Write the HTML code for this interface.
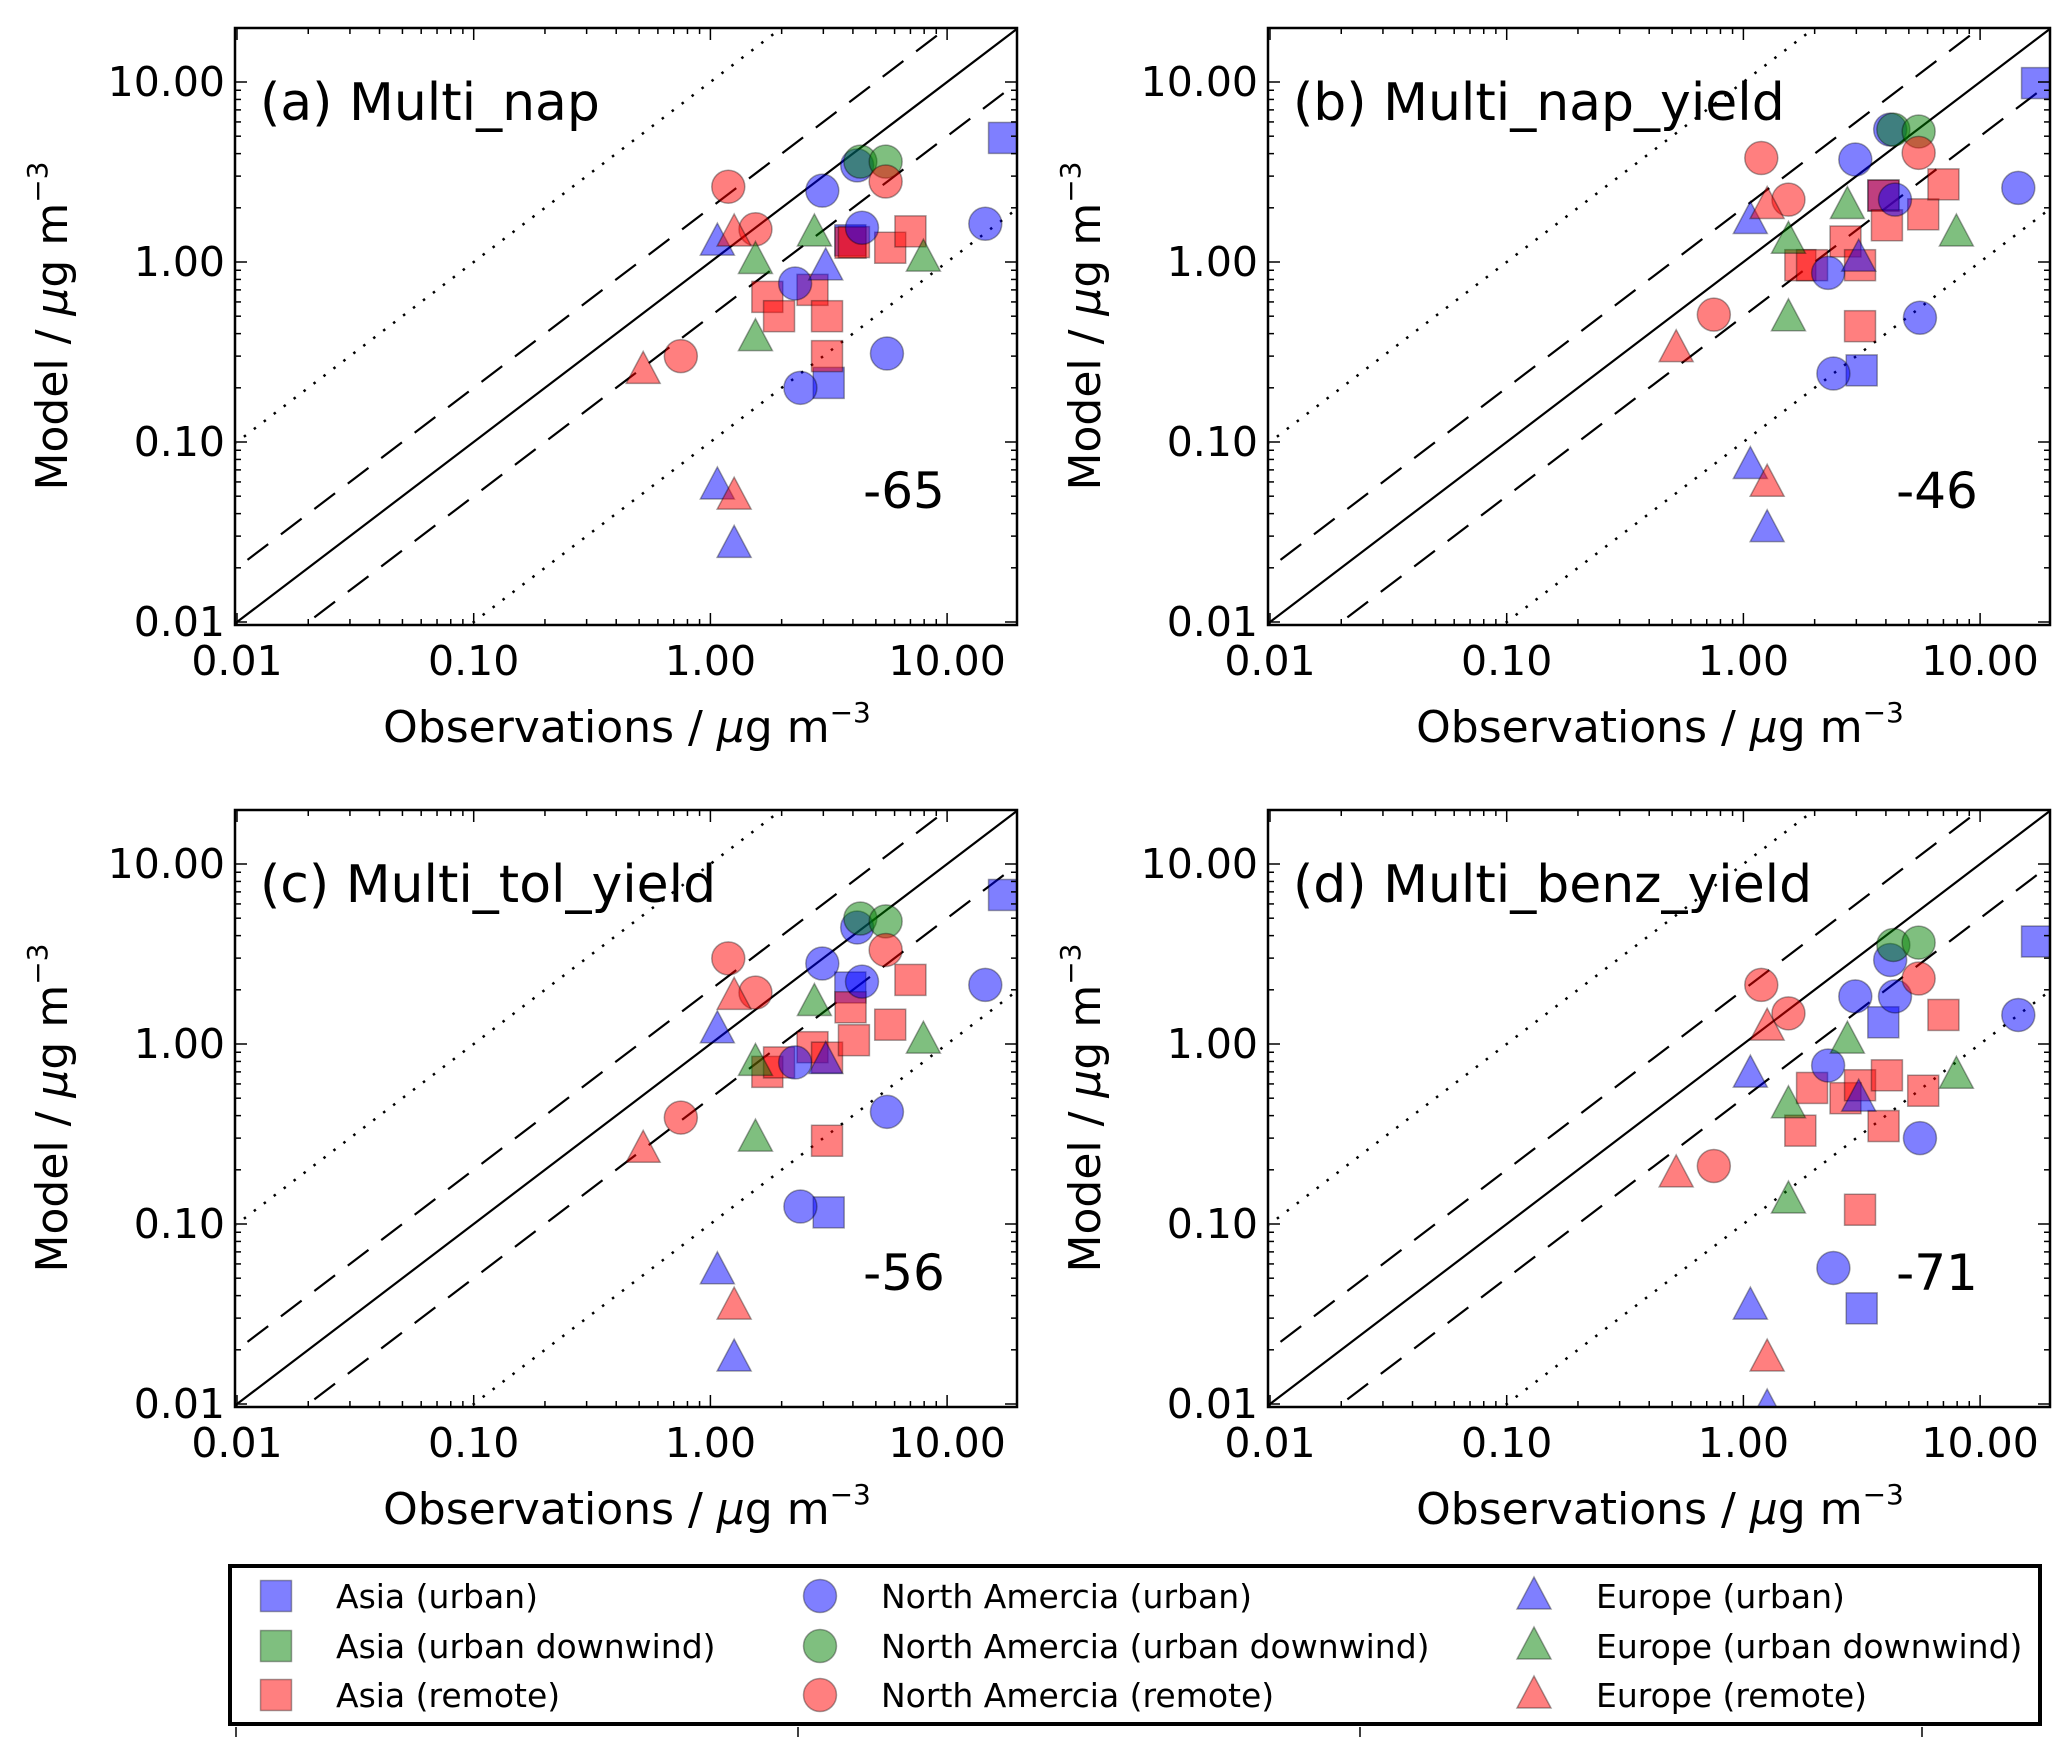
<!DOCTYPE html>
<html><head><meta charset="utf-8"><style>
html,body{margin:0;padding:0;background:#fff;}
svg{display:block;}
text{font-family:"DejaVu Sans","Liberation Sans",sans-serif;fill:#000;}
</style></head><body>
<svg id="fig" width="2067" height="1758" viewBox="0 0 2067 1758" xmlns="http://www.w3.org/2000/svg">
<defs id="defs"></defs>
<g id="panels"></g>
<g id="legend"></g>
</svg>
<script>
// ---------- data (µg m-3) ----------
const panelTitles = ["(a) Multi_nap", "(b) Multi_nap_yield", "(c) Multi_tol_yield", "(d) Multi_benz_yield"];
const panelScores = ["-65", "-46", "-56", "-71"];
const tickValues = [0.01, 0.1, 1, 10];
const tickLabels = ["0.01", "0.10", "1.00", "10.00"];

const obsAsiaUrban = [17.4, 3.16, 3.9];
const obsNaUrban = [4.17, 2.97, 4.37, 2.28, 2.40, 5.57, 14.5];
const obsNaDown = [4.3, 5.5];
const obsNaRemote = [1.19, 1.55, 5.5, 0.75];
const obsEuUrban = [1.07, 3.07, 1.07, 1.26];
const obsEuDown = [1.55, 2.75, 1.55, 7.94];
const obsEuRemote = [1.26, 0.52, 1.26];
const obsAsiaRemote = [1.74, 1.95, 2.70, 3.11, 3.11, 3.91, 4.04, 5.75, 7.0];

const modAsiaUrban = [[4.89, 0.213, 1.32], [9.86, 0.25, 2.34], [6.73, 0.116, 2.06], [3.71, 0.034, 1.32]];
const modNaUrban = [[3.44, 2.49, 1.55, 0.76, 0.20, 0.31, 1.63], [5.44, 3.71, 2.22, 0.87, 0.24, 0.49, 2.58], [4.44, 2.80, 2.22, 0.79, 0.125, 0.42, 2.13], [2.93, 1.84, 1.84, 0.76, 0.057, 0.30, 1.45]];
const modNaDown = [[3.61, 3.61], [5.44, 5.31], [4.98, 4.80], [3.55, 3.66]];
const modNaRemote = [[2.62, 1.52, 2.80, 0.30], [3.78, 2.22, 4.04, 0.51], [2.99, 1.93, 3.33, 0.39], [2.13, 1.48, 2.31, 0.21]];
const modEuUrban = [[1.29, 0.94, 0.057, 0.027], [1.70, 1.05, 0.074, 0.033], [1.20, 0.81, 0.055, 0.018], [0.68, 0.50, 0.035, 0.0095]];
const modEuDown = [[1.02, 1.45, 0.38, 1.05], [1.32, 2.06, 0.49, 1.45], [0.79, 1.70, 0.30, 1.05], [0.46, 1.05, 0.136, 0.67]];
const modEuRemote = [[1.45, 0.25, 0.050], [2.06, 0.33, 0.059], [1.84, 0.26, 0.035], [1.24, 0.19, 0.018]];
const modAsiaRemote = [[0.64, 0.50, 0.70, 0.50, 0.30, 1.28, 1.29, 1.20, 1.48], [0.96, 0.96, 1.30, 0.96, 0.44, 2.34, 1.60, 1.84, 2.70], [0.70, 0.79, 0.96, 0.84, 0.29, 1.60, 1.05, 1.28, 2.27], [0.33, 0.57, 0.50, 0.59, 0.12, 0.35, 0.67, 0.55, 1.45]];

const legendLabels = ["Asia (urban)", "Asia (urban downwind)", "Asia (remote)", "North Amercia (urban)", "North Amercia (urban downwind)", "North Amercia (remote)", "Europe (urban)", "Europe (urban downwind)", "Europe (remote)"];

// ---------- layout ----------
const NS = "http://www.w3.org/2000/svg";
const PW = 782, PH = 597;
const origins = [[235, 28], [1268, 28], [235, 810], [1268, 810]];
const XDEC = 236.7, YDEC = 180;
const BLUE = "#0000ff", GREEN = "#008000", RED = "#ff0000";

function mk(tag, attrs, parent) {
  const e = document.createElementNS(NS, tag);
  for (const k in attrs) e.setAttribute(k, attrs[k]);
  if (parent) parent.appendChild(e);
  return e;
}
function xScale(v, left) { return left + 2 + (Math.log10(v) + 2) * XDEC; }
function yScale(v, top) { return top + 594 - (Math.log10(v) + 2) * YDEC; }

function marker(shape, color, cx, cy, parent, name) {
  let el;
  const st = { fill: color, "fill-opacity": 0.5, stroke: "#000", "stroke-opacity": 0.35, "stroke-width": 1.5 };
  if (shape === "sq") {
    el = mk("rect", Object.assign({ x: cx - 15.5, y: cy - 15.5, width: 31, height: 31 }, st), parent);
  } else if (shape === "ci") {
    el = mk("circle", Object.assign({ cx: cx, cy: cy, r: 16.5 }, st), parent);
  } else {
    el = mk("polygon", Object.assign({ points: (cx) + "," + (cy - 19) + " " + (cx - 17) + "," + (cy + 13) + " " + (cx + 17) + "," + (cy + 13) }, st), parent);
  }
  
  
  return el;
}

const seriesDefs = [
  ["asia-urban", "sq", BLUE, obsAsiaUrban, modAsiaUrban],
  ["asia-remote", "sq", RED, obsAsiaRemote, modAsiaRemote],
  ["na-urban", "ci", BLUE, obsNaUrban, modNaUrban],
  ["na-urban-downwind", "ci", GREEN, obsNaDown, modNaDown],
  ["na-remote", "ci", RED, obsNaRemote, modNaRemote],
  ["europe-urban", "tr", BLUE, obsEuUrban, modEuUrban],
  ["europe-urban-downwind", "tr", GREEN, obsEuDown, modEuDown],
  ["europe-remote", "tr", RED, obsEuRemote, modEuRemote]
];

const panelsG = document.getElementById("panels");
const defs = document.getElementById("defs");
const letters = ["a", "b", "c", "d"];

origins.forEach(function (o, p) {
  const L = o[0], T = o[1];
  const g = mk("g", {}, panelsG);
  
  
  const cp = mk("clipPath", { id: "clip" + p }, defs);
  mk("rect", { x: L, y: T, width: PW, height: PH }, cp);
  const inner = mk("g", { "clip-path": "url(#clip" + p + ")" }, g);

  const lines = [[0, "none", 2.2, "one-to-one-line"], [Math.log10(2), "26,16", 2.2, "factor2-upper-line"], [-Math.log10(2), "26,16", 2.2, "factor2-lower-line"], [1, "2.5,10", 2.5, "factor10-upper-line"], [-1, "2.5,10", 2.5, "factor10-lower-line"]];
  lines.forEach(function (ln) {
    const a = 0.008, b = 25;
    const l = mk("line", { x1: xScale(a, L), y1: yScale(a * Math.pow(10, ln[0]), T), x2: xScale(b, L), y2: yScale(b * Math.pow(10, ln[0]), T), stroke: "#000", "stroke-width": ln[2], "stroke-dasharray": ln[1] }, inner);
    
    
  });

  seriesDefs.forEach(function (s) {
    const xs = s[3], ys = s[4][p];
    for (let i = 0; i < xs.length; i++) {
      marker(s[1], s[2], xScale(xs[i], L), yScale(ys[i], T), inner, s[0] + "-point");
    }
  });

  const fr = mk("rect", { x: L, y: T, width: PW, height: PH, fill: "none", stroke: "#000", "stroke-width": 2.5 }, g);
  
  

  const tg = mk("g", { stroke: "#000", "stroke-width": 1.5 }, g);
  
  
  for (let d = -2; d <= 1; d++) {
    for (let m = 1; m <= 9; m++) {
      const v = m * Math.pow(10, d);
      const len = m === 1 ? 12 : 6;
      const x = xScale(v, L);
      if (x >= L && x <= L + PW) {
        mk("line", { x1: x, y1: T + PH, x2: x, y2: T + PH - len }, tg);
        mk("line", { x1: x, y1: T, x2: x, y2: T + len }, tg);
      }
      const y = yScale(v, T);
      if (y >= T && y <= T + PH) {
        mk("line", { x1: L, y1: y, x2: L + len, y2: y }, tg);
        mk("line", { x1: L + PW, y1: y, x2: L + PW - len, y2: y }, tg);
      }
    }
  }

  tickValues.forEach(function (v, i) {
    const tx = mk("text", { x: xScale(v, L), y: T + PH + 50, "text-anchor": "middle", "font-size": 41 }, g);
    tx.textContent = tickLabels[i];
    
    
    const ty = mk("text", { x: L - 10, y: yScale(v, T) + 14, "text-anchor": "end", "font-size": 41 }, g);
    ty.textContent = tickLabels[i];
    
    
  });

  const xt = mk("text", { x: L + 392, y: T + PH + 117, "text-anchor": "middle", "font-size": 44 }, g);
  xt.innerHTML = 'Observations / <tspan font-style="italic">μ</tspan>g m<tspan dy="-20" font-size="28">−3</tspan>';
  
  
  const yt = mk("text", { x: 0, y: 0, "text-anchor": "middle", "font-size": 44, transform: "translate(" + (L - 168) + "," + (T + 298) + ") rotate(-90)" }, g);
  yt.innerHTML = 'Model / <tspan font-style="italic">μ</tspan>g m<tspan dy="-20" font-size="28">−3</tspan>';
  
  

  const pt = mk("text", { x: L + 25, y: T + 92, "font-size": 52 }, g);
  pt.textContent = panelTitles[p];
  
  
  const sc = mk("text", { x: L + 669, y: T + 480, "text-anchor": "middle", "font-size": 50 }, g);
  sc.textContent = panelScores[p];
  
  
});

// ---------- legend ----------
const lg = document.getElementById("legend");
const lbox = mk("rect", { x: 230, y: 1566, width: 1810, height: 158, fill: "#fff", stroke: "#000", "stroke-width": 4 }, lg);


const legShapes = ["sq", "sq", "sq", "ci", "ci", "ci", "tr", "tr", "tr"];
const legColors = [BLUE, GREEN, RED, BLUE, GREEN, RED, BLUE, GREEN, RED];
const colMarkerX = [276, 820, 1534];
const colTextX = [336, 881, 1596];
const rowY = [1596, 1646, 1695];
legendLabels.forEach(function (lab, i) {
  const c = Math.floor(i / 3), r = i % 3;
  const eg = mk("g", {}, lg);
  
  
  marker(legShapes[i], legColors[i], colMarkerX[c], rowY[r], eg, 'legend-marker');
  const t = mk("text", { x: colTextX[c], y: rowY[r] + 12, "font-size": 33 }, eg);
  t.textContent = lab;
  
  
});
const sg = mk("g", { stroke: "#000", "stroke-width": 1.5 }, lg);


[236, 798, 1360, 1922].forEach(function (x) { mk("line", { x1: x, y1: 1727, x2: x, y2: 1737 }, sg); });
</script>
</body></html>
